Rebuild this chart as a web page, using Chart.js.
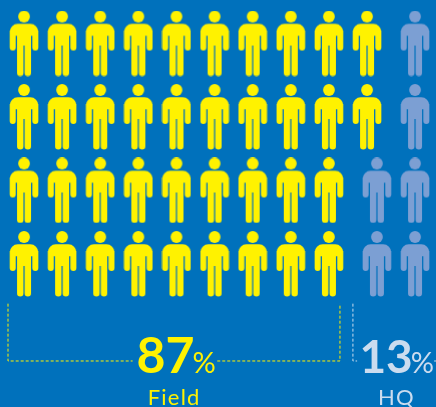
<!DOCTYPE html>
<html>
<head>
<meta charset="utf-8">
<style>
  html, body { margin: 0; padding: 0; background: #0071bc; }
  canvas { display: block; }
</style>
<script src="https://cdn.jsdelivr.net/npm/chart.js@4"></script>
</head>
<body>
<canvas id="people" width="436" height="407"></canvas>
<script>
const categories = ['Field', 'HQ'];
const shares = [87, 13];
const rows = [0, 1, 2, 3];
const fieldCounts = [10, 10, 9, 9];
const hqColumns = [[10.26], [10.26], [9.26, 10.26], [9.26, 10.26]];

const yellow = '#fff200';
const blue = '#7c9fd3';
const pale = '#cbdcef';

// one person, drawn once and used as the point style
function person(color) {
  const c = document.createElement('canvas');
  c.width = 30;
  c.height = 66;
  const g = c.getContext('2d');
  g.fillStyle = color;
  g.beginPath();
  g.arc(15, 6, 5.9, 0, Math.PI * 2);
  g.fill();
  g.beginPath();
  g.roundRect(0.7, 13.3, 28.6, 12, [8, 8, 0, 0]);
  g.roundRect(0.7, 20, 6, 20, [0, 0, 3, 3]);
  g.roundRect(23.3, 20, 6, 20, [0, 0, 3, 3]);
  g.roundRect(8, 20, 6.4, 45.5, [0, 0, 3.2, 3.2]);
  g.roundRect(15.6, 20, 6.4, 45.5, [0, 0, 3.2, 3.2]);
  g.rect(8, 20, 14, 15);
  g.fill();
  return c;
}

const fieldPoints = [];
const hqPoints = [];
rows.forEach(r => {
  for (let i = 0; i < fieldCounts[r]; i++) fieldPoints.push({ x: i, y: r });
  hqColumns[r].forEach(x => hqPoints.push({ x: x, y: r }));
});

const fieldBracket = [
  { x: -0.42, y: 3.54 }, { x: -0.42, y: 4.32 }, { x: 2.85, y: 4.32 }, { x: 3, y: null },
  { x: 5.07, y: 4.32 }, { x: 8.29, y: 4.32 }, { x: 8.29, y: 3.54 }
];
const hqBracket = [
  { x: 8.63, y: 3.54 }, { x: 8.63, y: 4.32 }, { x: 8.74, y: 4.32 }, { x: 9, y: null },
  { x: 10.76, y: 4.32 }, { x: 10.81, y: 4.32 }
];

// x of the number, y of number and category baselines, x of the category text
const labelX = [2.95, 8.8];
const catX = [3.94, 9.77];
const numberY = 4.49;
const catY = 4.92;

const numberFont = ['700 50px Lato', '700 46px Lato'];
const percentFont = '400 29px Lato';

const labels = {
  id: 'labels',
  afterDatasetsDraw(chart) {
    const g = chart.ctx;
    const xs = chart.scales.x;
    const ys = chart.scales.y;
    const colors = [yellow, pale];
    g.save();
    g.textBaseline = 'alphabetic';
    categories.forEach((cat, i) => {
      g.fillStyle = colors[i];
      g.textAlign = 'left';
      g.letterSpacing = '0px';
      const x = xs.getPixelForValue(labelX[i]);
      const num = String(shares[i]);
      g.font = numberFont[i];
      g.fillText(num, x, ys.getPixelForValue(numberY));
      const w = g.measureText(num).width;
      g.font = percentFont;
      g.fillText('%', x + w - 2, ys.getPixelForValue(numberY));
      g.font = '400 22px Lato';
      g.letterSpacing = '1.2px';
      g.textAlign = 'center';
      g.fillText(cat, xs.getPixelForValue(catX[i]), ys.getPixelForValue(catY));
    });
    g.restore();
  }
};

new Chart(document.getElementById('people'), {
  type: 'scatter',
  data: {
    datasets: [
      { label: 'Field', data: fieldPoints, pointStyle: person(yellow), showLine: false },
      { label: 'HQ', data: hqPoints, pointStyle: person(blue), showLine: false },
      { label: 'Field bracket', data: fieldBracket, showLine: true, pointRadius: 0, borderColor: yellow,
        borderWidth: 1, borderDash: [3, 2], spanGaps: false },
      { label: 'HQ bracket', data: hqBracket, showLine: true, pointRadius: 0, borderColor: pale,
        borderWidth: 1, borderDash: [3, 2], spanGaps: false }
    ]
  },
  plugins: [labels],
  options: {
    responsive: false,
    animation: false,
    layout: { padding: 0, autoPadding: false },
    plugins: { legend: { display: false }, tooltip: { enabled: false } },
    scales: {
      x: { type: 'linear', display: false, min: -0.63, max: 10.81 },
      y: { type: 'linear', display: false, reverse: true, min: -0.592, max: 4.946 }
    }
  }
});
</script>
</body>
</html>
